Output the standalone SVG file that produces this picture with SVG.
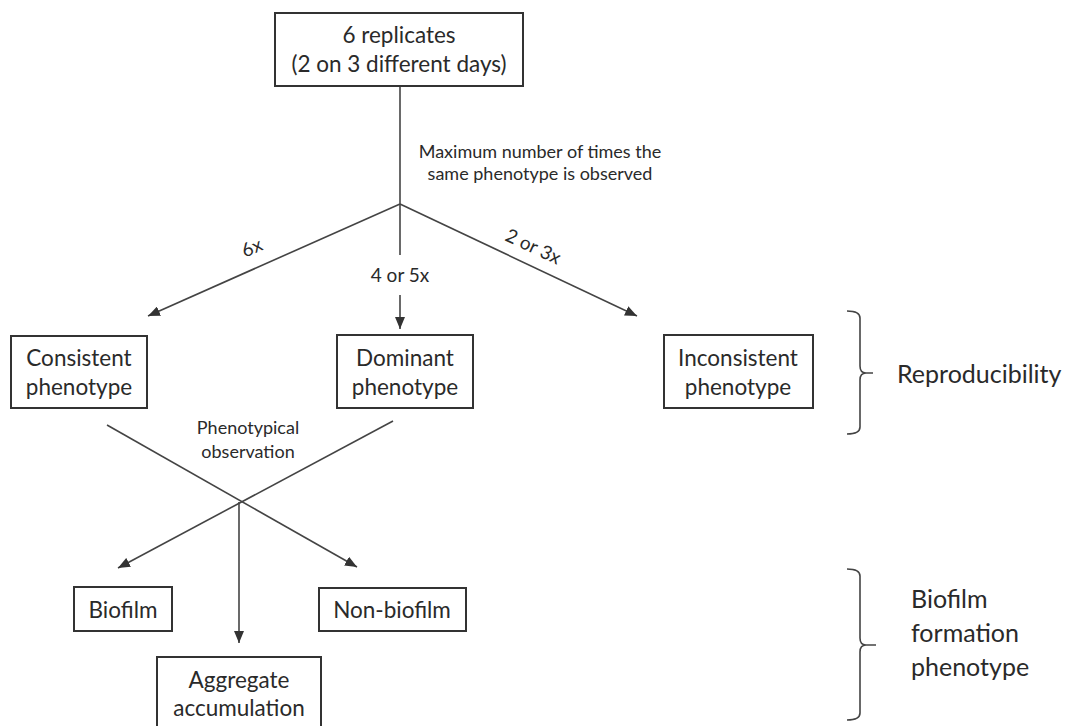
<svg xmlns="http://www.w3.org/2000/svg" width="1068" height="726" viewBox="0 0 1068 726">
<defs>
<marker id="ah" viewBox="0 0 12 10" refX="12" refY="5" markerWidth="12" markerHeight="10" markerUnits="userSpaceOnUse" orient="auto">
<path d="M0,0 L12,5 L0,10 Z" fill="#333"/>
</marker>
<style>
.box{fill:#fff;stroke:#333;stroke-width:2}
.ln{stroke:#444;stroke-width:1.6;fill:none}
.arr{stroke:#444;stroke-width:1.6;fill:none;marker-end:url(#ah)}
text{font-family:Lato,"Open Sans","Liberation Sans",sans-serif;fill:#2a2a2a}
.t{font-size:22.5px;text-anchor:middle}
.s{font-size:18px;text-anchor:middle}
.l{font-size:19px;text-anchor:middle}
.big{font-size:25px}
</style>
</defs>
<rect width="1068" height="726" fill="#fff"/>
<g id="connectors">
<polyline class="ln" points="400,86 400,204"/>
<line class="arr" x1="400" y1="204" x2="148" y2="316"/>
<line class="ln" x1="400" y1="204" x2="400" y2="255"/>
<line class="arr" x1="400" y1="295" x2="400" y2="329"/>
<line class="arr" x1="400" y1="204" x2="637" y2="316"/>
<line class="arr" x1="107" y1="425" x2="357" y2="567"/>
<line class="arr" x1="393" y1="421" x2="118" y2="568"/>
<line class="arr" x1="239" y1="502" x2="239" y2="643"/>
<text class="s" x="540" y="158">Maximum number of times the</text>
<text class="s" x="540" y="180">same phenotype is observed</text>
<text class="l" x="252" y="254" transform="rotate(-24 252 248)">6x</text>
<text class="l" x="400" y="282">4 or 5x</text>
<text class="l" x="533" y="253" transform="rotate(25 533 247)">2 or 3x</text>
<text class="s" x="248" y="434">Phenotypical</text>
<text class="s" x="248" y="458">observation</text>
</g>
<g id="n-top">
<rect class="box" x="275" y="13" width="248" height="73"/>
<text class="t" x="399" y="43">6 replicates</text>
<text class="t" x="399" y="72">(2 on 3 different days)</text>
</g>
<g id="n-consistent">
<rect class="box" x="11" y="336" width="136" height="72"/>
<text class="t" x="79" y="366">Consistent</text>
<text class="t" x="79" y="395">phenotype</text>
</g>
<g id="n-dominant">
<rect class="box" x="337" y="335" width="136" height="73"/>
<text class="t" x="405" y="366">Dominant</text>
<text class="t" x="405" y="395">phenotype</text>
</g>
<g id="n-inconsistent">
<rect class="box" x="664" y="335" width="149" height="73"/>
<text class="t" x="738" y="366">Inconsistent</text>
<text class="t" x="738" y="395">phenotype</text>
</g>
<g id="n-biofilm">
<rect class="box" x="74" y="587" width="98" height="44"/>
<text class="t" x="123" y="618">Biofilm</text>
</g>
<g id="n-nonbiofilm">
<rect class="box" x="319" y="588" width="147" height="43"/>
<text class="t" x="392" y="618">Non-biofilm</text>
</g>
<g id="n-aggregate">
<rect class="box" x="157" y="657" width="164" height="72"/>
<text class="t" x="239" y="688">Aggregate</text>
<text class="t" x="239" y="716">accumulation</text>
</g>
<g id="bracket-reproducibility">
<path class="ln" d="M847,311 Q860,311 860,318 L860,366 Q860,373 866,373 L873,373 M866,373 Q860,373 860,380 L860,427 Q860,434 847,434"/>
<text class="big" x="897" y="383">Reproducibility</text>
</g>
<g id="bracket-biofilm">
<path class="ln" d="M847,569 Q860,569 860,576 L860,638 Q860,645 866,645 L876,645 M866,645 Q860,645 860,652 L860,713 Q860,720 847,720"/>
<text class="big" x="911" y="608">Biofilm</text>
<text class="big" x="911" y="642">formation</text>
<text class="big" x="911" y="676">phenotype</text>
</g>
</svg>
